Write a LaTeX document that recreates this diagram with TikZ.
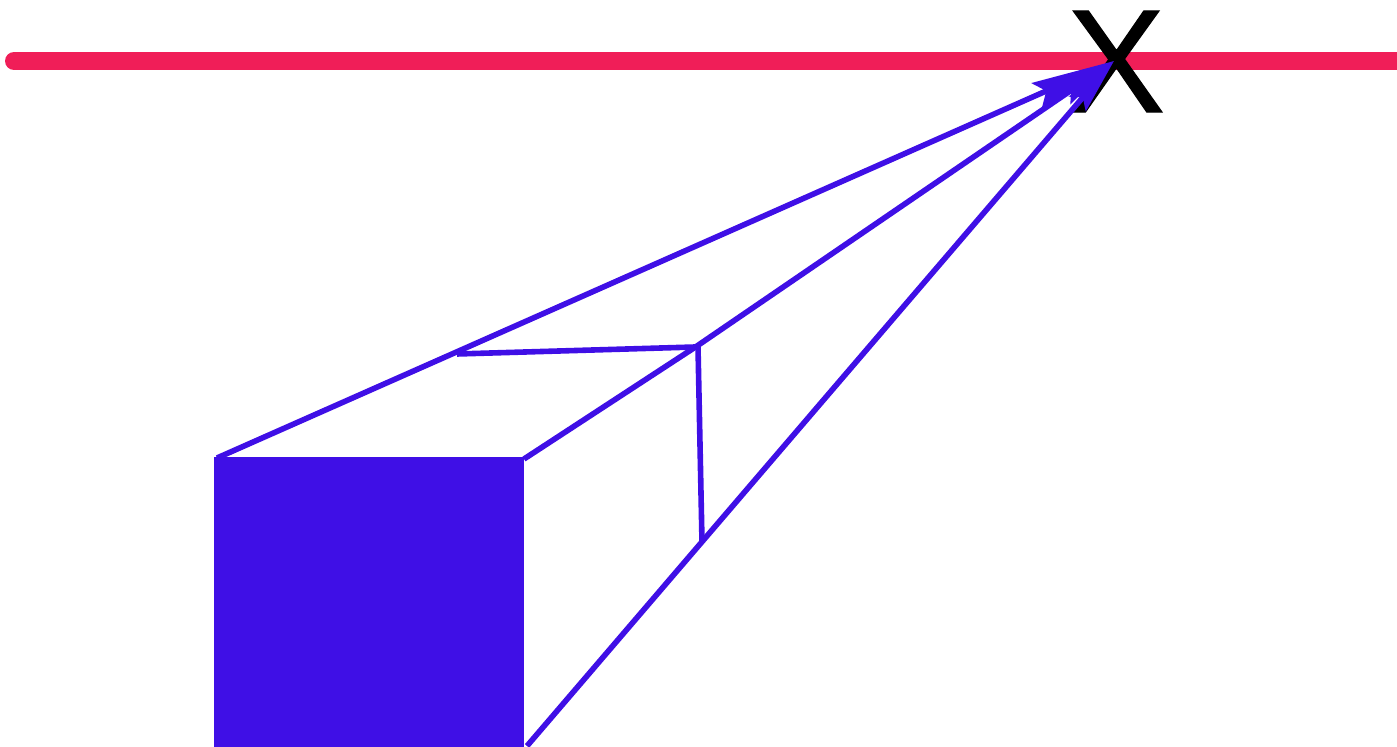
\documentclass[tikz,border=0pt]{standalone}
\usepackage{fontspec}
\setmainfont{Liberation Sans}
\newfontfamily\xfont[FakeBold=0.8]{Liberation Sans}
\usetikzlibrary{arrows.meta}
\definecolor{hred}{HTML}{F01E58}
\definecolor{cubeblue}{HTML}{3F0FE6}
\tikzset{
  horizon/.style={draw=hred,line width=9pt,line cap=round},
  edgeline/.style={draw=cubeblue,line width=2.8pt},
  vanishA/.style={edgeline,-{Stealth[length=42pt,width=13pt,inset=5pt]}},
  vanishB/.style={edgeline,-{Stealth[length=30pt,width=11pt,inset=4pt]}},
  vanishC/.style={edgeline,-{Stealth[length=28pt,width=11pt,inset=4pt]}},
  face/.style={fill=cubeblue,draw=none,inner sep=0pt,outer sep=0pt,minimum width=155pt,minimum height=144.5pt},
  vplabel/.style={inner sep=0pt,text=black,font=\xfont\fontsize{73.5}{73.5}\selectfont}
}
\begin{document}
\begin{tikzpicture}[x=0.5pt,y=-0.5pt]
\useasboundingbox (0,0) rectangle (1397,747);
\coordinate (hl) at (14,61);
\coordinate (hr) at (1420,61);
\coordinate (vp) at (1114,61);
\coordinate (a) at (217,458);
\coordinate (b) at (524,459);
\coordinate (m) at (697,346);
\coordinate (c) at (527,746);
\coordinate (d) at (457,354);
\coordinate (e) at (695,347);
\coordinate (f) at (698,347);
\coordinate (g) at (702,542);
\draw[horizon] (hl) -- (hr);
\node[vplabel] (x) at (1116,61.5) {X};
\node[face,anchor=north west] (sq) at (214,457.5) {};
\draw[vanishA] (a) -- (vp);
\draw[vanishB] (b) -- (m) -- (vp);
\draw[vanishC] (c) -- (vp);
\draw[edgeline] (d) -- (e);
\draw[edgeline] (f) -- (g);
\end{tikzpicture}
\end{document}
